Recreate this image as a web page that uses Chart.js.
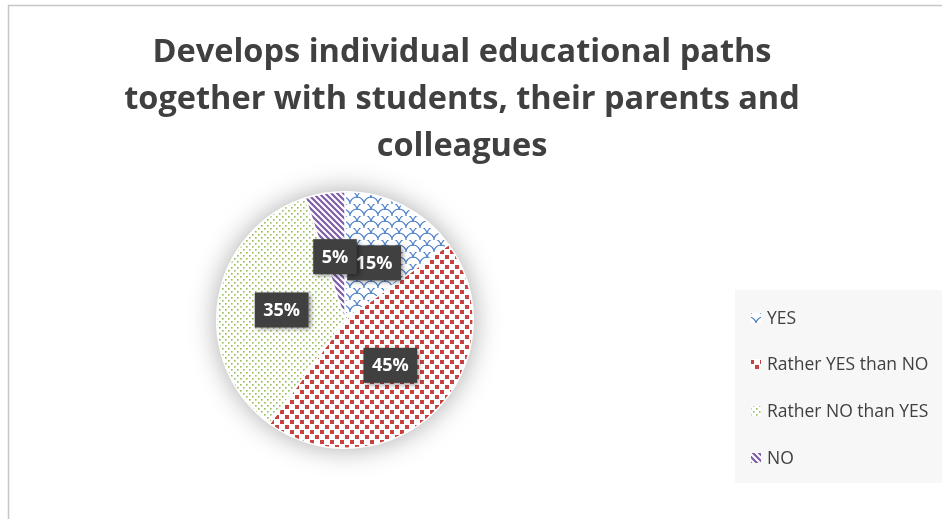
<!DOCTYPE html>
<html>
<head>
<meta charset="utf-8">
<script src="https://cdn.jsdelivr.net/npm/chart.js@4.4.1/dist/chart.umd.min.js"></script>
<style>
  html, body { margin: 0; padding: 0; background: #fff; }
  #wrap { width: 942px; height: 519px; position: relative; }
</style>
</head>
<body>
<div id="wrap"><canvas id="pie" width="942" height="519"></canvas></div>
<script>
const titleLines = [
    'Develops individual educational paths',
    'together with students, their parents and',
    'colleagues'
];
const answers = ['YES', 'Rather YES than NO', 'Rather NO than YES', 'NO'];
const shares = [15, 45, 35, 5];

const FONT = '"Open Sans", Lato, sans-serif';
const textColor = '#404040';

const canvas = document.getElementById('pie');
const ctx = canvas.getContext('2d');

// small repeating tiles used as slice fills
function makePattern(size, draw) {
    const c = document.createElement('canvas');
    c.width = size[0];
    c.height = size[1];
    const g = c.getContext('2d');
    g.fillStyle = '#ffffff';
    g.fillRect(0, 0, c.width, c.height);
    draw(g);
    return ctx.createPattern(c, 'repeat');
}

const scalesBlue = makePattern([14, 12], g => {
    g.strokeStyle = '#4a7ec9';
    g.lineWidth = 1.2;
    g.beginPath();
    g.arc(7, 12, 7, Math.PI, Math.PI * 2);
    g.stroke();
    g.beginPath();
    g.arc(0, 6, 7, Math.PI, Math.PI * 2);
    g.stroke();
    g.beginPath();
    g.arc(14, 6, 7, Math.PI, Math.PI * 2);
    g.stroke();
});

const squaresRed = makePattern([10, 10], g => {
    g.fillStyle = '#c9403f';
    g.fillRect(0, 0, 4, 4);
    g.fillRect(5, 5, 4, 4);
});

const dotsGreen = makePattern([6, 6], g => {
    g.fillStyle = '#93bb52';
    g.fillRect(0, 0, 1.6, 1.6);
    g.fillRect(3, 3, 1.6, 1.6);
});

const stripesPurple = makePattern([6, 6], g => {
    g.strokeStyle = '#7d5da6';
    g.lineWidth = 2.2;
    g.beginPath();
    g.moveTo(-1, -1); g.lineTo(7, 7);
    g.moveTo(-4, 2); g.lineTo(2, 8);
    g.moveTo(2, -4); g.lineTo(8, 2);
    g.stroke();
});

const fills = [scalesBlue, squaresRed, dotsGreen, stripesPurple];

// frame lines and title
const backdrop = {
    id: 'backdrop',
    beforeDraw(chart) {
        const c = chart.ctx;
        c.save();
        c.strokeStyle = '#c6c6c6';
        c.lineWidth = 1.5;
        c.beginPath();
        c.moveTo(8.5, 600);
        c.lineTo(8.5, 5.5);
        c.lineTo(960, 5.5);
        c.stroke();

        c.fillStyle = textColor;
        c.font = 'bold 32.5px ' + FONT;
        c.textAlign = 'center';
        c.textBaseline = 'alphabetic';
        const baselines = [62, 109, 156];
        titleLines.forEach((line, i) => c.fillText(line, 462, baselines[i]));
        c.restore();
    }
};

// soft glow under the pie
const pieShadow = {
    id: 'pieShadow',
    beforeDatasetsDraw(chart) {
        const arc = chart.getDatasetMeta(0).data[0];
        if (!arc) return;
        const c = chart.ctx;
        c.save();
        c.shadowColor = 'rgba(0,0,0,0.35)';
        c.shadowBlur = 28;
        c.fillStyle = '#ffffff';
        c.beginPath();
        c.arc(arc.x, arc.y, arc.outerRadius, 0, Math.PI * 2);
        c.fill();
        c.restore();
    }
};

// dark value boxes in the middle of each slice
const valueBoxes = {
    id: 'valueBoxes',
    afterDatasetsDraw(chart) {
        const c = chart.ctx;
        const meta = chart.getDatasetMeta(0);
        c.save();
        c.font = 'bold 18px ' + FONT;
        c.textAlign = 'center';
        c.textBaseline = 'middle';
        meta.data.forEach((arc, i) => {
            const p = arc.tooltipPosition();
            const txt = shares[i] + '%';
            const w = c.measureText(txt).width + 17;
            const h = 35;
            c.save();
            c.shadowColor = 'rgba(0,0,0,0.45)';
            c.shadowBlur = 5;
            c.shadowOffsetX = 2;
            c.shadowOffsetY = 2;
            c.fillStyle = '#404040';
            c.fillRect(p.x - w / 2, p.y - h / 2, w, h);
            c.restore();
            c.fillStyle = '#ffffff';
            c.fillText(txt, p.x, p.y + 1);
        });
        c.restore();
    }
};

// legend panel at the right
const sideLegend = {
    id: 'sideLegend',
    afterDraw(chart) {
        const c = chart.ctx;
        c.save();
        c.fillStyle = '#f7f7f7';
        c.fillRect(735, 290, 220, 193);
        c.font = '17.5px ' + FONT;
        c.textBaseline = 'middle';
        c.textAlign = 'left';
        const rows = [318, 364, 411, 458];
        chart.data.labels.forEach((lab, i) => {
            c.fillStyle = chart.data.datasets[0].backgroundColor[i];
            c.fillRect(751, rows[i] - 5, 10, 10);
            c.fillStyle = textColor;
            c.fillText(lab, 767, rows[i] + 1);
        });
        c.restore();
    }
};

new Chart(ctx, {
    type: 'pie',
    data: {
        labels: answers,
        datasets: [{
            data: shares,
            backgroundColor: fills,
            borderColor: '#ffffff',
            borderWidth: 1.5
        }]
    },
    options: {
        responsive: false,
        animation: false,
        layout: {
            padding: { top: 191, bottom: 70, left: 216, right: 468 }
        },
        plugins: {
            legend: { display: false },
            title: { display: false },
            tooltip: { enabled: false }
        }
    },
    plugins: [backdrop, pieShadow, valueBoxes, sideLegend]
});
</script>
</body>
</html>
